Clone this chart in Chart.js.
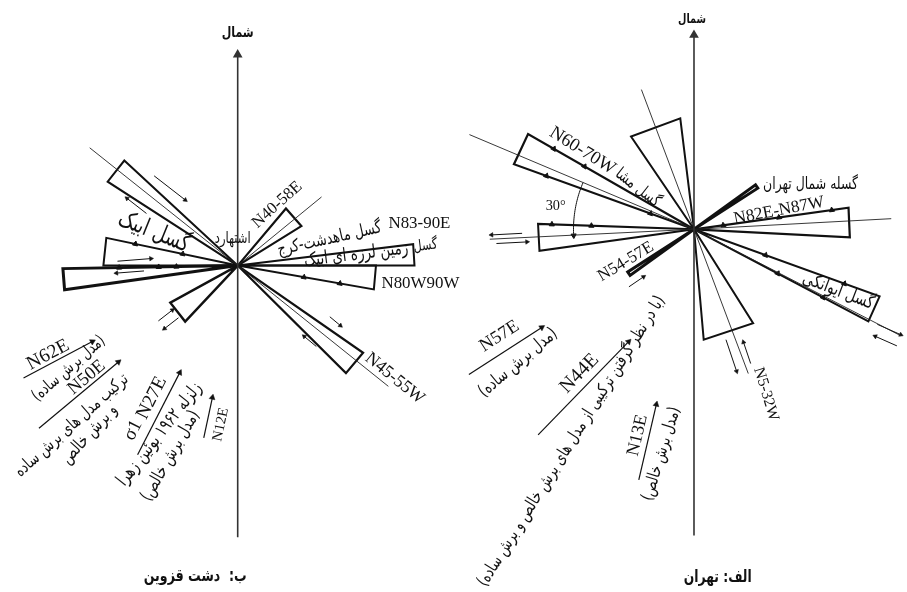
<!DOCTYPE html>
<html>
<head>
<meta charset="utf-8">
<script src="https://cdn.jsdelivr.net/npm/chart.js@4.4.1/dist/chart.umd.min.js"></script>
<style>
  html, body { margin: 0; padding: 0; background: #fff; }
  #wrap { width: 907px; height: 592px; position: relative; }
</style>
</head>
<body>
<div id="wrap"><canvas id="rose"></canvas></div>
<script>
// ---- Qazvin plain (ب) : fault petals, azimuths in degrees from north ----
const qazvinPetalFrom   = [303, 270, 262, 223, 40, 83, 90, 125];
const qazvinPetalTo     = [313, 282, 269, 241, 58, 90, 100, 135];
const qazvinPetalLength = [157, 136, 177, 78, 76, 179, 140, 155];
const qazvinFaultAz     = [308.7, 128.9, 50.5];
const qazvinFaultLength = [192, 196, 110];
const qazvinStressAz     = [62, 50, 27, 12];
const qazvinStressLength = [79, 105, 94, 42];

// ---- Tehran (الف) ----
const tehranPetalFrom   = [326, 290, 262, 82, 110, 148, 54, 234];
const tehranPetalTo     = [353, 300, 272, 93, 118, 175, 57, 237];
const tehranPetalLength = [114, 194, 158, 158, 200, 113, 77, 80];
const tehranFaultAz     = [339.5, 159.5, 293, 117.4, 267.2, 86.9];
const tehranFaultLength = [152, 157, 247, 236, 207, 200];
const tehranStressAz     = [57, 44, 13];
const tehranStressLength = [88, 132, 79];
const tehranAngleArc     = [293, 267];   // the 30° angle between the two fault trends

// ---- drawing layout (data units equal canvas pixels) ----
const layout = {
  qazvin: {
    cx: 235, cy: 265, axisTop: 50, axisBottom: 542,
    petalWidth: [2, 2, 3, 2.4, 2.2, 2, 2, 2.2],
    stressMid: [[53, 361], [74, 397], [155, 416], [205, 420]],
    // [petal, edge, distance from centre, +1 outward / -1 inward]
    barbs: [[1, 1, 106, 1], [1, 1, 57, 1], [2, 1, 120, 1], [2, 1, 80, 1], [2, 1, 62, 1],
            [6, 1, 68, -1], [6, 1, 105, -1]],
    // [petal, distance along axis, side offset, direction, length]
    shear: [[0, 103, 20, -1, 40], [0, 118, -15, 1, 25], [2, 104, 14, -1, 34], [2, 109, 2, 1, 28],
            [3, 89, -5, 1, 18], [3, 89, 5, -1, 18], [7, 112, -20, 1, 14], [7, 106, 12, -1, 16]]
  },
  tehran: {
    cx: 697, cy: 228, axisTop: 30, axisBottom: 540,
    petalWidth: [2, 2.2, 2, 2.2, 2, 2, 3, 3],
    stressMid: [[506, 352], [585, 390], [650, 445]],
    barbs: [[1, 1, 164, 1], [1, 1, 128, 1], [1, 0, 159, -1], [1, 0, 47, -1],
            [2, 1, 144, 1], [2, 1, 104, 1], [3, 0, 87, 1], [3, 0, 141, 1], [3, 0, 30, 1],
            [4, 0, 77, 1], [4, 0, 162, 1], [4, 1, 96, -1], [4, 1, 148, -1]],
    shear: [[2, 189.5, 5, 1, 31], [2, 185, -4, -1, 31], [5, 134, 5, 1, 34], [5, 136.5, -11, -1, 23],
            [7, 78.5, -11, -1, 18], [4, 222, 13, 1, 26], [4, 224, 25, -1, 24]],
    arcRadius: 122
  }
};

const qazvinStressLabels = ['N62E', 'N50E', 'N27E', 'N12E'];
const tehranStressLabels = ['N57E', 'N44E', 'N13E'];

function pol(cx, cy, az, r) {
  const a = az * Math.PI / 180;
  return { x: cx + r * Math.sin(a), y: cy - r * Math.cos(a) };
}
function norm(a) { return ((a % 360) + 360) % 360; }

const datasets = [];
function addLine(points, opts) {
  datasets.push(Object.assign({
    data: points, showLine: true, fill: false, borderColor: '#111', borderWidth: 1,
    pointRadius: 0, tension: 0, borderJoinStyle: 'miter', clip: false
  }, opts || {}));
}
function addArrow(p0, p1, az, width, head) {
  addLine([p0, p1], {
    borderWidth: width, pointRadius: [0, head], pointStyle: 'triangle',
    pointRotation: [0, az], pointBackgroundColor: '#111', pointBorderColor: '#111', pointBorderWidth: 0.5
  });
}

function buildRose(L, from, to, len, faultAz, faultLen, stressAz, stressLen) {
  const C = { x: L.cx, y: L.cy };
  // north axis
  addLine([{ x: L.cx, y: L.axisBottom }, { x: L.cx, y: L.axisTop }], {
    borderColor: '#333', borderWidth: 1.6, pointRadius: [0, 4], pointStyle: 'triangle',
    pointRotation: [0, 0], pointBackgroundColor: '#333', pointBorderColor: '#333'
  });
  // fault trend lines
  faultAz.forEach((az, i) => addLine([C, pol(L.cx, L.cy, az, faultLen[i])], { borderWidth: 0.9, borderColor: '#222' }));
  // petals
  from.forEach((a, i) => {
    const A = pol(L.cx, L.cy, a, len[i]);
    const B = pol(L.cx, L.cy, to[i], len[i]);
    addLine([C, A, B, C], { borderWidth: L.petalWidth[i] });
  });
  // thrust barbs on petal edges
  const barbPts = [], barbRot = [];
  L.barbs.forEach(([p, edge, d, side]) => {
    const az = edge ? to[p] : from[p];
    barbPts.push(pol(L.cx, L.cy, az, d));
    const out = edge ? az + 90 : az - 90;
    barbRot.push(norm(side > 0 ? out : out + 180));
  });
  datasets.push({
    data: barbPts, showLine: false, pointStyle: 'triangle', pointRadius: 3,
    pointRotation: barbRot, pointBackgroundColor: '#111', pointBorderColor: '#111', clip: false
  });
  // shear-sense arrows beside petals
  L.shear.forEach(([p, along, off, dir, l]) => {
    const axis = (from[p] + to[p]) / 2;
    const base = pol(L.cx, L.cy, axis, along);
    const mid = pol(base.x, base.y, axis + 90, off);
    const daz = norm(dir > 0 ? axis : axis + 180);
    const p0 = pol(mid.x, mid.y, daz + 180, l / 2);
    const p1 = pol(mid.x, mid.y, daz, l / 2);
    addArrow(p0, p1, daz, 1, 2.6);
  });
  // stress-direction arrows
  stressAz.forEach((az, i) => {
    const [mx, my] = L.stressMid[i];
    addArrow(pol(mx, my, az + 180, stressLen[i] / 2), pol(mx, my, az, stressLen[i] / 2), az, 1.2, 3.4);
  });
}

buildRose(layout.qazvin, qazvinPetalFrom, qazvinPetalTo, qazvinPetalLength,
          qazvinFaultAz, qazvinFaultLength, qazvinStressAz, qazvinStressLength);
buildRose(layout.tehran, tehranPetalFrom, tehranPetalTo, tehranPetalLength,
          tehranFaultAz, tehranFaultLength, tehranStressAz, tehranStressLength);

// 30° arc between the N60-70W trend and the E-W trend
(function () {
  const L = layout.tehran, pts = [];
  for (let a = tehranAngleArc[0]; a >= tehranAngleArc[1]; a -= 1) pts.push(pol(L.cx, L.cy, a, L.arcRadius));
  addLine(pts, {
    borderWidth: 1, tension: 0.3,
    pointRadius: pts.map((_, i) => i === pts.length - 1 ? 3 : 0),
    pointStyle: 'triangle', pointRotation: pts.map(() => norm(tehranAngleArc[1] - 90)),
    pointBackgroundColor: '#111', pointBorderColor: '#111'
  });
})();

// ---- text ----
const FA = 'fa', SERIF = 'serif';
const texts = [
  { t: 'شمال', x: 235, y: 28, r: 0, w: 32, f: FA, b: true },
  { t: 'اشتهارد', x: 230, y: 238, r: 0, w: 36, f: FA },
  { t: 'گسل ابیک', x: 150, y: 231, r: 22, w: 75, f: FA },
  { t: 'گسل ماهدشت-کرج', x: 328, y: 238, r: -12.6, w: 106, f: FA },
  { t: 'زمین لرزه ای ابیک', x: 355, y: 254, r: -7, w: 105, f: FA },
  { t: 'گسل', x: 425, y: 245, r: -7, w: 24, f: FA },
  { t: 'N40-58E', x: 275, y: 203, r: -42, w: 61, f: SERIF },
  { t: 'N83-90E', x: 419, y: 222, r: 0, w: 62, f: SERIF },
  { t: 'N80W90W', x: 420, y: 283, r: 0, w: 78, f: SERIF },
  { t: 'N45-55W', x: 394, y: 380, r: 39, w: 71, f: SERIF },
  { t: '(مدل برش ساده)', x: 64, y: 370, r: -41, w: 91, f: FA },
  { t: 'ترکیب مدل های برش ساده', x: 67, y: 428, r: -41.7, w: 146, f: FA },
  { t: 'و برش خالص', x: 85, y: 437, r: -47.7, w: 74, f: FA },
  { t: 'زلزله ۱۹۶۲ بوئین زهرا', x: 156, y: 437, r: -51.8, w: 126, f: FA },
  { t: '(مدل برش خالص)', x: 167, y: 459, r: -60.4, w: 101, f: FA },
  { t: 'σ1', x: 129, y: 433, r: -63, w: 20, f: SERIF },
  { t: 'ب:  دشت قزوین', x: 192, y: 582, r: 0, w: 103, f: FA, b: true },

  { t: 'شمال', x: 695, y: 14, r: 0, w: 28, f: FA, b: true },
  { t: 'گسله شمال تهران', x: 815, y: 182, r: 0, w: 95, f: FA },
  { t: '30°', x: 557, y: 205, r: 0, w: 20, f: SERIF },
  { t: 'N60-70W', x: 584, y: 148, r: 32, w: 74, f: SERIF },
  { t: 'گسل مشا', x: 640, y: 186, r: 38, w: 52, f: FA },
  { t: 'گسل ایوانکی', x: 843, y: 291, r: 21, w: 75, f: FA },
  { t: 'N54-57E', x: 628, y: 261, r: -31, w: 62, f: SERIF },
  { t: 'N82E-N87W', x: 783, y: 209, r: -11, w: 92, f: SERIF },
  { t: 'N5-32W', x: 770, y: 396, r: 73, w: 55, f: SERIF },
  { t: '(مدل برش ساده)', x: 519, y: 364, r: -40, w: 97, f: FA },
  { t: '(با در نظر گرفتن ترکیبی از مدل های برش خالص و برش ساده)', x: 573, y: 444, r: -58, w: 339, f: FA },
  { t: '(مدل برش خالص)', x: 664, y: 457, r: -73, w: 97, f: FA },
  { t: 'الف: تهران', x: 721, y: 583, r: 0, w: 68, f: FA, b: true }
];
const qazvinStressTextPos = [[43, 356], [82, 379], [148, 400], [218, 427]];
const qazvinStressTextW = [45, 43, 45, 34];
const tehranStressTextPos = [[500, 337], [581, 375], [640, 438]];
const tehranStressTextW = [43, 47, 42];
qazvinStressLabels.forEach((t, i) => texts.push({ t, x: qazvinStressTextPos[i][0], y: qazvinStressTextPos[i][1], r: qazvinStressAz[i] - 90, w: qazvinStressTextW[i], f: SERIF }));
tehranStressLabels.forEach((t, i) => texts.push({ t, x: tehranStressTextPos[i][0], y: tehranStressTextPos[i][1], r: tehranStressAz[i] - 90, w: tehranStressTextW[i], f: SERIF }));

const textPlugin = {
  id: 'roseText',
  afterDatasetsDraw(chart) {
    const ctx = chart.ctx, xs = chart.scales.x, ys = chart.scales.y;
    ctx.save();
    ctx.fillStyle = '#111';
    ctx.textAlign = 'center';
    ctx.textBaseline = 'middle';
    texts.forEach(o => {
      const isFa = o.f === FA;
      const fam = isFa ? '"DejaVu Sans", "Noto Sans", sans-serif' : '"Liberation Serif", "DejaVu Serif", serif';
      const wt = o.b ? 'bold ' : '';
      ctx.direction = isFa ? 'rtl' : 'ltr';
      ctx.font = wt + '16px ' + fam;
      const m = ctx.measureText(o.t).width || 1;
      const size = Math.max(8, Math.min(20, 16 * o.w / m));
      ctx.font = wt + size.toFixed(2) + 'px ' + fam;
      ctx.save();
      ctx.translate(xs.getPixelForValue(o.x), ys.getPixelForValue(o.y));
      ctx.rotate(o.r * Math.PI / 180);
      // Persian lettering is set a little taller than the wide DejaVu glyphs
      if (isFa) ctx.scale(1, 1.35);
      ctx.fillText(o.t, 0, 0);
      ctx.restore();
    });
    ctx.restore();
  }
};

new Chart(document.getElementById('rose'), {
  type: 'scatter',
  data: { datasets },
  options: {
    responsive: true, maintainAspectRatio: false, animation: false, events: [],
    layout: { padding: 0 },
    plugins: { legend: { display: false }, tooltip: { enabled: false } },
    scales: {
      x: { type: 'linear', min: 0, max: 907, display: false },
      y: { type: 'linear', min: 0, max: 592, reverse: true, display: false }
    }
  },
  plugins: [textPlugin]
});
</script>
</body>
</html>
